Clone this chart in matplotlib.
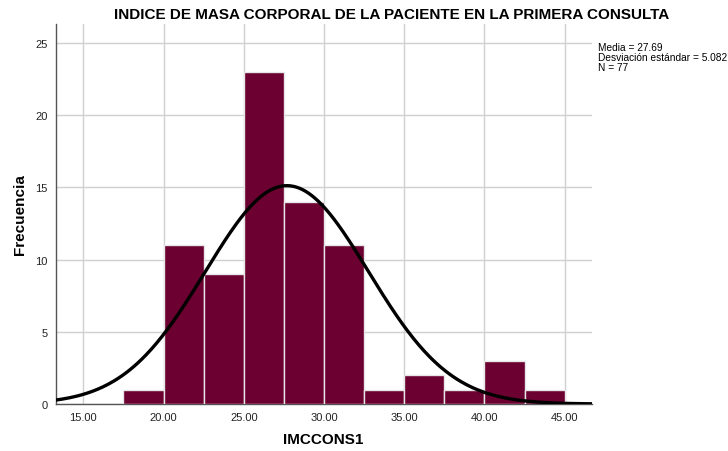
import numpy as np
import matplotlib
matplotlib.use("Agg")
import matplotlib.pyplot as plt

plt.rcParams['font.family'] = ['Liberation Sans', 'DejaVu Sans']

# Histogram bins (IMC) and counts per bin
bin_edges = [17.5, 20.0, 22.5, 25.0, 27.5, 30.0, 32.5, 35.0, 37.5, 40.0, 42.5, 45.0]
counts = [1, 11, 9, 23, 14, 11, 1, 2, 1, 3, 1]
mean = 27.69
std = 5.082
n = 77
x_ticks = [15, 20, 25, 30, 35, 40, 45]
y_ticks = [0, 5, 10, 15, 20, 25]

fig = plt.figure(figsize=(7.28, 4.52), dpi=100)
ax = fig.add_axes([56/728, 47/452, (592-56)/728, (405-25)/452])

lefts = bin_edges[:-1]
widths = np.diff(bin_edges)
ax.bar(lefts, counts, width=widths, align='edge', color='#6b0031',
       edgecolor='#e6e6e6', linewidth=1.0, zorder=3)

# Fitted normal curve scaled to frequency
bw = bin_edges[1] - bin_edges[0]
xs = np.linspace(13.3, 46.7, 400)
ys = n * bw * np.exp(-0.5 * ((xs - mean) / std) ** 2) / (std * np.sqrt(2 * np.pi))
ax.plot(xs, ys, color='black', linewidth=2.4, zorder=4)

ax.set_xlim(13.3, 46.7)
ax.set_ylim(0, 26.3)
ax.set_xticks(x_ticks)
ax.set_xticklabels([f"{v:.2f}" for v in x_ticks], fontsize=8)
ax.set_yticks(y_ticks)
ax.set_yticklabels([str(v) for v in y_ticks], fontsize=8)
ax.tick_params(length=0, pad=6, colors='#222222')
ax.grid(True, color='#d0d0d0', linewidth=1.0, zorder=0)
ax.set_axisbelow(True)
for s in ['top', 'right']:
    ax.spines[s].set_visible(False)
for s in ['left', 'bottom']:
    ax.spines[s].set_color('#555555')
    ax.spines[s].set_linewidth(1.0)

fig.text(20/728, 1 - 215/452, 'Frecuencia', rotation=90, fontsize=11,
         fontweight='bold', ha='center', va='center')
fig.text(323/728, 1 - 440/452, 'IMCCONS1', fontsize=11, fontweight='bold',
         ha='center', va='center')
fig.text(392/728, 1 - 15/452, 'INDICE DE MASA CORPORAL DE LA PACIENTE EN LA PRIMERA CONSULTA',
         fontsize=11, fontweight='bold', ha='center', va='center')
fig.text(598/728, 1 - 43/452,
         f"Media = {mean:.2f}\nDesviación estándar = {std:.3f}\nN = {n}",
         fontsize=7.3, ha='left', va='top', linespacing=1.0)

fig.savefig('out.png', dpi=100)
